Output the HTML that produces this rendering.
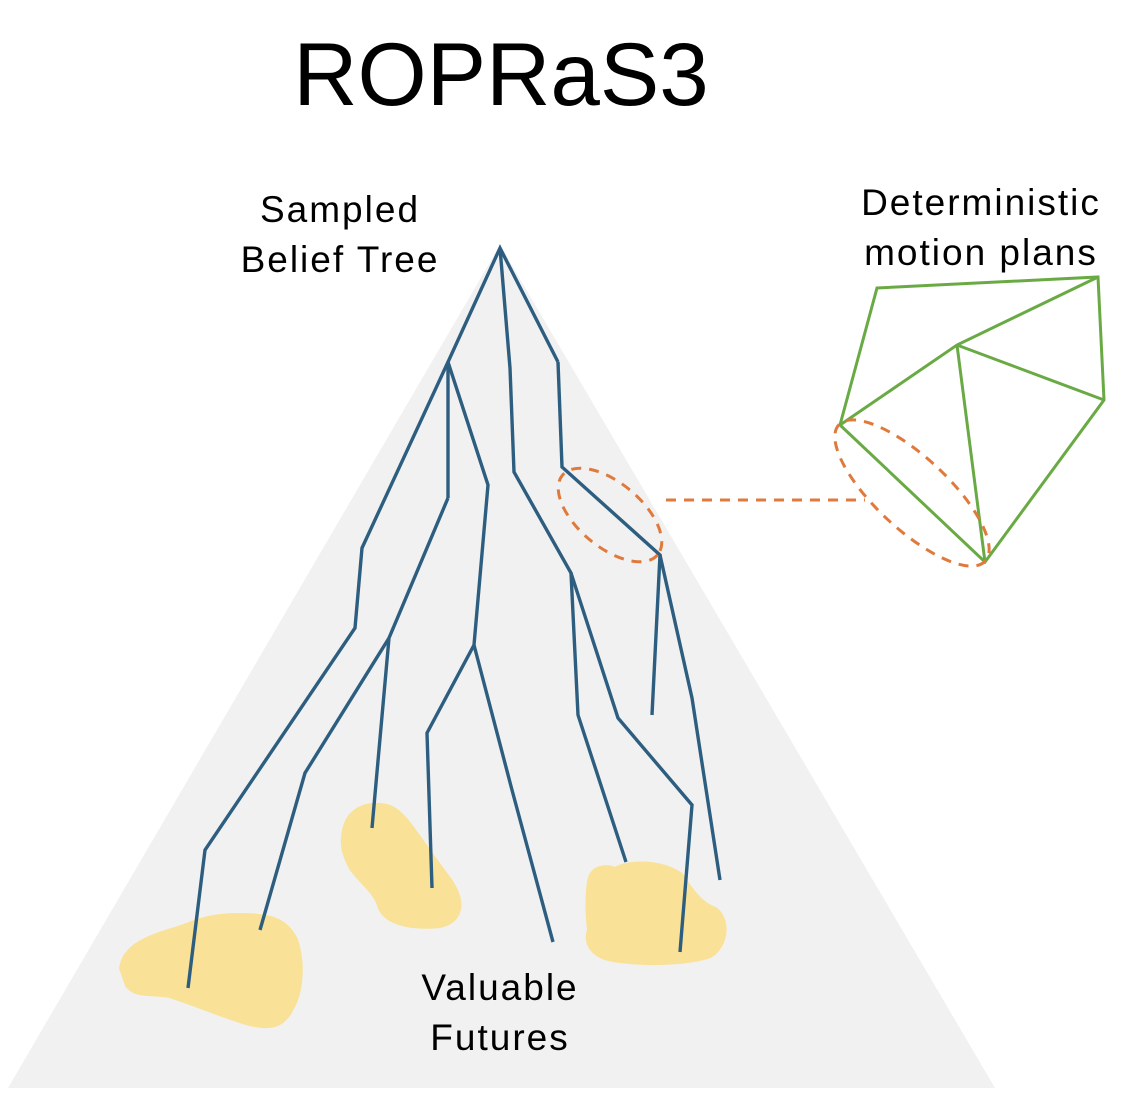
<!DOCTYPE html>
<html><head><style>body{margin:0;background:#fff}svg{display:block}</style></head>
<body>
<svg width="1132" height="1102" viewBox="0 0 1132 1102" xmlns="http://www.w3.org/2000/svg">
<polygon points="8,1088 995,1088 500,245" fill="#f1f1f1"/>
<g fill="#f9e297" stroke="#f9e297" stroke-width="6" stroke-linejoin="round">
<path d="M122,968 C125,950 140,940 175,930 C195,924 205,916 240,916 C270,916 285,920 295,940 C302,960 302,990 290,1010 C282,1025 270,1030 240,1020 C215,1012 200,1005 170,995 C150,992 135,995 128,985 Z"/>
<path d="M345,830 C350,808 370,802 390,808 C405,815 415,835 445,875 C465,900 462,920 440,925 C410,928 385,922 380,905 C375,890 360,880 352,868 C342,850 343,840 345,830 Z"/>
<path d="M590,882 C592,868 605,866 615,870 C630,862 660,862 680,875 C690,890 700,905 715,910 C728,920 726,945 710,955 C690,962 650,964 620,960 C595,958 585,945 590,930 C588,912 588,895 590,882 Z"/>
</g>
<g stroke="#2d5e80" stroke-width="3.4" fill="none" stroke-linejoin="miter">
<polyline points="558,362 500,248 448,362 448,498"/>
<polyline points="500,248 510,368 514,472 571,573 578,715 626,862"/>
<polyline points="448,362 362,548 355,628 205,850 188,988"/>
<polyline points="448,362 488,485 474,645 427,733 432,888"/>
<polyline points="474,645 512,790 553,942"/>
<polyline points="448,498 389,638 372,828"/>
<polyline points="389,638 305,773 260,930"/>
<polyline points="571,573 618,718 692,805 680,952"/>
<polyline points="558,362 562,467 660,555 652,715"/>
<polyline points="660,555 692,698 720,880"/>
</g>
<g stroke="#6aaa45" stroke-width="3" fill="none">
<polygon points="877,288 1098,277 1104,400 985,562 840,425"/>
<polyline points="840,425 957,345 1098,277"/>
<line x1="957" y1="345" x2="1104" y2="400"/>
<line x1="957" y1="345" x2="985" y2="562"/>
</g>
<g stroke="#e07a3c" stroke-width="3" fill="none" stroke-dasharray="10,8">
<ellipse cx="610" cy="515" rx="62" ry="32" transform="rotate(40 610 515)"/>
<ellipse cx="912" cy="493" rx="100" ry="36" transform="rotate(43 912 493)"/>
<line x1="666" y1="500" x2="865" y2="500"/>
</g>
<g font-family="Liberation Sans, sans-serif" fill="#000" text-anchor="middle">
<text x="501" y="105" font-size="89">ROPRaS3</text>
<g font-size="37" letter-spacing="2">
<text x="340" y="222">Sampled</text>
<text x="340" y="272">Belief Tree</text>
<text x="981" y="215">Deterministic</text>
<text x="981" y="265">motion plans</text>
<text x="500" y="1000">Valuable</text>
<text x="500" y="1050">Futures</text>
</g>
</g>
</svg>
</body></html>
